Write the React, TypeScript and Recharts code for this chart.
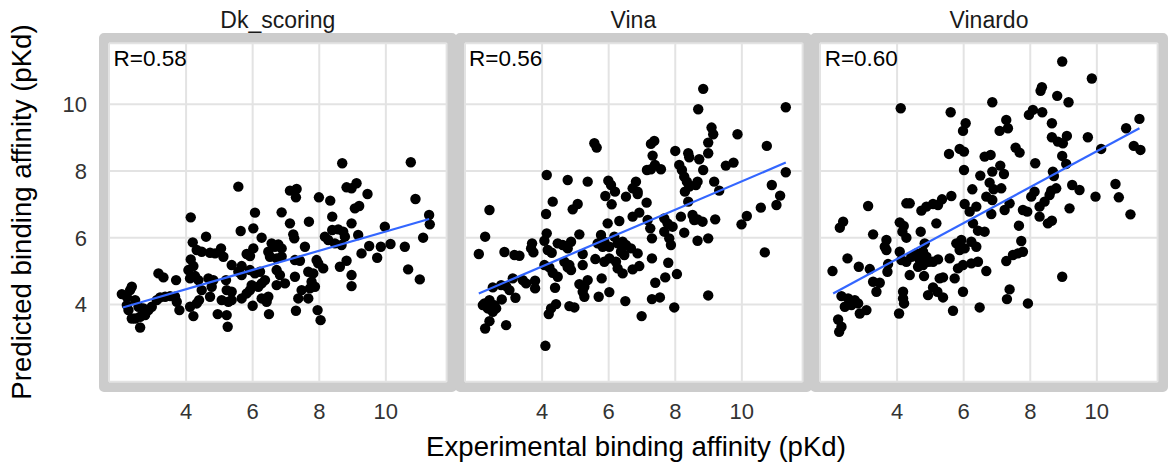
import React from "react";
import { ScatterChart, Scatter, XAxis, YAxis, CartesianGrid } from "recharts";

// facet names and correlation labels
const panelNames = ["Dk_scoring", "Vina", "Vinardo"];
const rLabels = ["R=0.58", "R=0.56", "R=0.60"];
const axisTicks = [4, 6, 8, 10];

// [experimental, predicted]
const dkPoints: [number, number][] = [
  [5.57, 7.53], [8.69, 8.23], [10.75, 8.26], [7.12, 7.41], [7.32, 7.46], [8.82, 7.51], [8.97, 7.48], [9.12, 7.63],
  [7.3, 7.21], [7.99, 7.21], [8.33, 7.11], [9.45, 7.31], [10.89, 7.16], [11.3, 6.68], [11.32, 6.4], [11.12, 6.0],
  [4.14, 6.61], [6.07, 6.75], [6.87, 6.76], [7.12, 6.43], [7.69, 6.48], [8.39, 6.63], [9.07, 6.88], [9.2, 6.95], [8.97, 6.43], [9.97, 6.33],
  [5.64, 6.2], [6.02, 6.28], [4.6, 6.03], [4.2, 5.86], [6.27, 6.0], [7.22, 6.1], [7.25, 5.98], [8.17, 6.03], [8.27, 5.93],
  [8.39, 6.23], [8.57, 6.25], [8.72, 6.18], [8.47, 5.83], [8.67, 5.78], [8.77, 6.03], [9.17, 6.08], [9.5, 5.75], [9.85, 5.73], [10.14, 5.81], [10.57, 5.73],
  [9.27, 5.53], [9.74, 5.4], [10.67, 5.05], [11.02, 4.75],
  [4.32, 5.63], [4.47, 5.58], [4.72, 5.55], [4.87, 5.53], [5.05, 5.68], [5.12, 5.43], [4.14, 5.35], [4.22, 5.15], [5.37, 5.18], [5.67, 5.15],
  [5.82, 5.51], [5.92, 5.45], [6.02, 5.68], [6.47, 5.58], [6.57, 5.83], [6.67, 5.73], [6.77, 5.8], [6.87, 5.68], [6.52, 5.43], [6.72, 5.38], [6.87, 5.43],
  [7.57, 5.73], [7.27, 5.33], [7.42, 5.31], [7.92, 5.33], [7.97, 5.23], [8.12, 5.08], [8.62, 5.13], [8.82, 5.31], [8.97, 4.88], [8.97, 4.55],
  [3.17, 4.93], [3.32, 4.81], [3.7, 4.73], [4.07, 5.03], [4.12, 4.78], [4.27, 4.85], [4.37, 4.73], [4.67, 4.78], [4.82, 4.73], [4.77, 4.53], [4.47, 4.43],
  [4.72, 4.23], [5.2, 4.73], [5.57, 4.98], [5.67, 4.88], [5.92, 5.03], [6.07, 4.93], [6.22, 4.98], [5.97, 4.58], [6.17, 4.53], [6.27, 4.63], [6.37, 4.73],
  [6.72, 5.03], [6.82, 4.88], [6.97, 4.63], [6.72, 4.58], [7.27, 4.83], [7.67, 4.98], [7.82, 4.93], [7.77, 4.68], [7.87, 4.53], [7.72, 4.48],
  [7.47, 4.43], [7.37, 4.18], [7.67, 4.18], [5.22, 4.43], [5.37, 4.38], [5.07, 4.13], [5.27, 4.08], [5.37, 4.13], [5.67, 4.18], [5.82, 4.33], [5.92, 4.43],
  [6.27, 4.18], [6.42, 4.08], [6.47, 4.23], [6.0, 3.96], [5.22, 3.68], [4.95, 3.71], [5.25, 3.33], [6.49, 3.71], [7.3, 3.81], [7.95, 3.83], [8.04, 3.53],
  [4.22, 3.65], [4.12, 3.93], [4.32, 4.03], [4.39, 4.13], [3.8, 3.83], [3.67, 4.23], [3.52, 4.25], [3.37, 4.23], [3.22, 4.21], [3.12, 4.13], [3.72, 4.08],
  [2.97, 3.93], [2.87, 3.83], [2.77, 3.68], [2.62, 3.63], [2.47, 3.58], [2.37, 3.58], [2.62, 3.31], [2.27, 3.83], [2.22, 3.98],
  [2.07, 4.31], [2.22, 4.23], [2.37, 4.53], [2.32, 4.43], [2.47, 4.13], [2.57, 3.93], [2.72, 3.88],
];

const vinaPoints: [number, number][] = [
  [8.84, 10.46], [8.69, 9.85], [11.32, 9.91], [9.09, 9.3], [9.14, 9.1], [9.87, 9.1], [8.99, 8.85], [8.99, 8.53], [10.75, 8.75],
  [5.57, 8.83], [5.64, 8.7], [7.27, 8.81], [7.37, 8.9], [7.32, 8.46], [8.0, 8.6], [8.39, 8.53], [8.42, 8.41], [8.72, 8.35],
  [8.12, 8.18], [8.2, 8.03], [7.39, 8.18], [7.15, 8.03], [7.27, 8.05], [7.57, 8.05], [8.84, 8.03], [9.52, 8.16], [9.75, 8.25], [11.32, 7.96],
  [4.14, 7.88], [4.77, 7.73], [5.37, 7.68], [5.99, 7.71], [6.07, 7.58], [6.19, 7.38], [6.82, 7.68], [6.72, 7.48], [6.87, 7.38],
  [8.27, 7.83], [8.35, 7.68], [8.42, 7.53], [8.67, 7.68], [8.62, 7.58], [9.17, 7.68], [9.32, 7.41], [8.29, 7.38], [10.9, 7.58],
  [2.42, 6.83], [4.32, 7.08], [4.12, 6.71], [4.92, 6.85], [5.07, 7.01], [5.9, 7.25], [6.09, 7.0], [6.52, 7.23], [6.87, 7.31], [7.14, 7.05],
  [6.92, 6.75], [6.72, 6.63], [6.32, 6.5], [5.97, 6.43], [7.17, 6.53], [7.25, 6.28], [7.67, 6.58], [7.77, 6.43], [7.92, 6.33], [8.17, 6.63],
  [8.39, 7.08], [8.52, 6.68], [8.67, 6.55], [8.82, 6.48], [8.57, 6.53], [9.2, 6.55], [8.27, 6.15], [7.67, 6.18], [7.82, 5.98], [7.87, 5.78],
  [8.67, 5.91], [8.99, 5.98], [9.99, 6.4], [10.15, 6.65], [10.57, 6.9], [11.04, 6.98], [11.15, 7.26], [10.69, 5.56],
  [2.29, 6.03], [2.1, 5.51], [2.87, 5.57], [3.17, 5.48], [3.32, 5.46], [3.7, 5.83], [3.67, 5.68], [3.74, 5.56], [4.14, 6.13], [4.07, 5.91],
  [4.17, 5.63], [4.29, 5.55], [4.47, 5.83], [4.62, 5.78], [4.77, 5.68], [4.87, 5.88], [5.12, 6.1], [5.22, 5.51],
  [4.07, 5.18], [4.22, 5.11], [4.32, 4.95], [4.47, 4.83], [4.67, 5.28], [4.77, 5.11], [4.87, 5.03], [4.82, 5.18], [5.22, 5.18], [5.6, 5.36],
  [5.77, 6.08], [5.87, 5.88], [6.02, 5.73], [5.67, 5.83], [5.82, 5.73], [6.17, 6.03], [6.27, 5.83], [6.42, 5.88], [6.52, 5.78],
  [6.37, 5.58], [6.47, 5.48], [6.67, 5.68], [6.87, 5.53], [5.87, 5.28], [6.02, 5.38], [6.22, 5.28], [6.27, 5.08], [6.42, 4.93], [6.72, 5.05], [6.92, 5.15],
  [7.3, 5.98], [7.3, 5.38], [7.79, 5.25], [8.05, 4.91], [7.7, 4.81], [7.4, 4.65], [7.3, 4.16], [7.54, 4.21], [7.97, 3.91], [8.99, 4.27],
  [6.99, 3.65], [6.5, 4.1], [6.02, 4.37], [5.7, 4.23], [5.79, 4.78], [5.12, 4.61], [5.27, 4.53], [5.37, 4.73], [5.22, 4.38], [5.27, 4.23],
  [4.39, 4.5], [4.42, 4.01], [4.27, 3.88], [4.2, 3.71], [4.82, 3.95], [4.97, 3.91], [4.1, 2.76],
  [3.42, 4.73], [3.52, 4.63], [3.79, 4.71], [3.79, 4.48], [3.12, 4.78], [3.2, 4.2], [2.92, 4.55], [3.02, 4.43], [2.52, 4.51], [2.77, 4.58], [2.79, 4.15],
  [2.27, 4.03], [2.42, 4.13], [2.57, 3.98], [2.37, 3.88], [2.52, 3.78], [2.62, 3.88], [2.42, 3.5], [2.29, 3.28], [2.92, 3.38], [2.22, 3.98],
];

const vinardoPoints: [number, number][] = [
  [8.96, 11.28], [9.85, 10.77], [8.35, 10.51], [8.31, 10.4], [8.81, 10.25], [9.15, 10.06], [6.86, 10.06], [4.11, 9.88], [5.61, 9.76],
  [8.08, 9.83], [7.96, 9.68], [8.36, 9.76], [11.28, 9.56], [10.88, 9.28], [6.06, 9.43], [5.98, 9.2], [7.28, 9.53], [7.33, 9.28], [7.08, 9.2],
  [8.65, 9.43], [8.65, 9.01], [8.83, 8.88], [8.98, 8.83], [9.1, 9.05], [9.73, 9.01], [10.13, 8.66], [11.11, 8.75], [11.31, 8.63],
  [7.56, 8.7], [7.68, 8.55], [5.56, 8.51], [5.88, 8.66], [6.01, 8.58], [6.63, 8.43], [6.81, 8.48], [8.96, 8.45], [9.08, 8.21], [8.15, 8.23],
  [7.1, 8.16], [6.01, 8.03], [6.86, 7.98], [7.21, 7.91], [6.5, 7.86], [8.68, 7.98], [8.71, 7.85], [6.78, 7.65], [6.9, 7.45], [7.13, 7.48],
  [6.26, 7.45], [8.78, 7.48], [8.63, 7.41], [9.26, 7.58], [9.48, 7.43], [10.56, 7.61],
  [4.38, 7.03], [4.28, 7.03], [4.73, 6.81], [4.88, 6.93], [5.08, 7.01], [5.23, 6.98], [5.35, 7.15], [5.63, 7.25], [3.13, 6.95],
  [2.28, 6.3], [2.38, 6.48], [3.28, 6.1], [4.08, 6.46], [4.2, 6.35], [4.16, 6.18], [4.28, 6.0], [5.18, 6.43], [4.71, 6.18],
  [6.03, 7.01], [6.18, 6.78], [6.38, 6.93], [6.68, 7.23], [6.86, 7.13], [6.83, 6.71], [7.23, 6.83], [7.38, 7.03], [6.28, 6.43], [6.43, 6.21], [6.63, 6.18],
  [7.78, 6.83], [7.91, 6.78], [8.03, 7.23], [8.13, 7.38], [8.28, 6.93], [8.43, 7.08], [8.58, 7.28], [8.28, 6.63], [8.53, 6.43], [8.65, 6.51],
  [7.66, 6.36], [7.73, 5.9], [9.18, 6.88], [9.96, 7.23], [10.66, 7.21], [11.01, 6.7],
  [3.68, 5.93], [3.63, 5.73], [3.68, 5.63], [2.06, 5.0], [2.51, 5.38], [2.85, 5.13], [3.18, 5.06], [3.73, 5.21], [3.71, 4.98],
  [4.08, 5.58], [4.13, 5.33], [4.28, 5.28], [4.43, 5.43], [4.58, 5.53], [4.68, 5.33], [4.78, 5.58], [4.83, 5.83], [4.88, 5.43], [4.95, 5.28],
  [4.63, 5.13], [4.78, 5.18], [4.38, 4.88], [4.81, 4.85], [5.08, 5.28], [5.23, 5.35], [5.58, 5.38],
  [5.78, 5.83], [5.93, 5.93], [6.03, 5.68], [5.88, 5.63], [6.23, 5.88], [6.38, 5.73], [5.83, 5.08], [5.98, 5.18], [6.23, 5.23], [6.43, 5.28],
  [6.68, 5.0], [7.28, 5.3], [7.48, 5.48], [7.63, 5.53], [7.78, 5.58], [5.28, 4.78], [5.38, 4.81], [5.73, 4.78],
  [3.28, 4.68], [3.48, 4.65], [3.38, 4.38], [5.08, 4.51], [4.93, 4.28], [5.21, 4.38], [5.38, 4.21], [5.98, 4.38],
  [4.18, 4.38], [4.18, 4.18], [4.21, 4.03], [4.06, 3.73], [5.68, 3.81], [6.48, 3.91], [7.38, 4.45], [7.3, 4.16], [7.93, 4.03], [8.96, 4.83],
  [2.33, 4.25], [2.53, 4.18], [2.73, 4.13], [2.83, 4.03], [2.43, 3.93], [2.63, 3.98], [2.88, 3.73], [3.08, 3.83], [2.23, 3.55], [2.33, 3.33], [2.26, 3.18],
];

// fitted line end points
const dkFit: [number, number][] = [[2.1, 3.91], [11.3, 6.56]];
const vinaFit: [number, number][] = [[2.1, 4.33], [11.32, 8.25]];
const vinardoFit: [number, number][] = [[2.08, 4.33], [11.28, 9.28]];

const allPoints = [dkPoints, vinaPoints, vinardoPoints];
const allFits = [dkFit, vinaFit, vinardoFit];

const FONT = '"Liberation Sans", Arial, Helvetica, sans-serif';
const DOMAIN: [number, number] = [1.685, 11.825];
const PLOT_W = 337.6;
const PLOT_H = 338.4;
const PLOT_TOP = 43.3;
const panelLefts = [109, 464.6, 820.2];

const toXY = (pts: [number, number][]) => pts.map(([x, y]) => ({ x, y }));

const Dot = (props: any) => <circle cx={props.cx} cy={props.cy} r={5.2} fill="#000" />;
const NoDot = () => <g />;

const Panel = ({ idx }: { idx: number }) => {
  const first = idx === 0;
  const yAxisW = first ? 109 : 0;
  const left = first ? 0 : panelLefts[idx] - 12;
  const width = (first ? yAxisW : 12) + PLOT_W + 12;
  const tickStyle = { fontSize: 22, fill: "#333", fontFamily: FONT };
  return (
    <div style={{ position: "absolute", left, top: 0 }}>
      <ScatterChart
        width={width}
        height={467}
        margin={{ top: PLOT_TOP, right: 12, bottom: 467 - PLOT_TOP - PLOT_H - 40, left: first ? 0 : 12 }}
      >
        <CartesianGrid stroke="#e3e3e3" strokeWidth={2} />
        <XAxis
          type="number"
          dataKey="x"
          domain={DOMAIN}
          ticks={axisTicks}
          allowDataOverflow
          height={40}
          tickLine={false}
          axisLine={false}
          tickMargin={15.5}
          tick={tickStyle}
        />
        <YAxis
          type="number"
          dataKey="y"
          domain={DOMAIN}
          ticks={axisTicks}
          allowDataOverflow
          hide={!first}
          width={yAxisW}
          tickLine={false}
          axisLine={false}
          tickMargin={16}
          tick={tickStyle}
        />
        <Scatter data={toXY(allPoints[idx])} shape={Dot} isAnimationActive={false} />
        <Scatter
          data={toXY(allFits[idx])}
          shape={NoDot}
          line={{ stroke: "#3366FF", strokeWidth: 2.2 }}
          isAnimationActive={false}
        />
      </ScatterChart>
    </div>
  );
};

export default function App() {
  return (
    <div style={{ position: "absolute", left: 0, top: 0, width: 1168, height: 467, background: "#fff", overflow: "hidden" }}>
      {panelLefts.map((pl, i) => (
        <div
          key={"b" + i}
          style={{
            position: "absolute",
            left: pl - 10,
            top: PLOT_TOP - 10,
            width: PLOT_W,
            height: PLOT_H,
            border: "10px solid #cccccc",
            borderRadius: 5,
          }}
        />
      ))}
      {[0, 1, 2].map((i) => (
        <Panel key={i} idx={i} />
      ))}
      <svg width={1168} height={467} style={{ position: "absolute", left: 0, top: 0, pointerEvents: "none" }}>
        {panelNames.map((n, i) => (
          <text key={n} x={panelLefts[i] + PLOT_W / 2} y={27.5} textAnchor="middle" fontSize={23} fontFamily={FONT} fill="#1a1a1a">
            {n}
          </text>
        ))}
        {rLabels.map((r, i) => (
          <text key={r} x={panelLefts[i] + 4.5} y={65.7} fontSize={22.5} fontFamily={FONT} fill="#000">
            {r}
          </text>
        ))}
        <text x={636} y={456} textAnchor="middle" fontSize={27.6} fontFamily={FONT} fill="#000">
          Experimental binding affinity (pKd)
        </text>
        <text x={31} y={212} textAnchor="middle" fontSize={27.6} fontFamily={FONT} fill="#000" transform="rotate(-90, 31, 212)">
          Predicted binding affinity (pKd)
        </text>
      </svg>
    </div>
  );
}
